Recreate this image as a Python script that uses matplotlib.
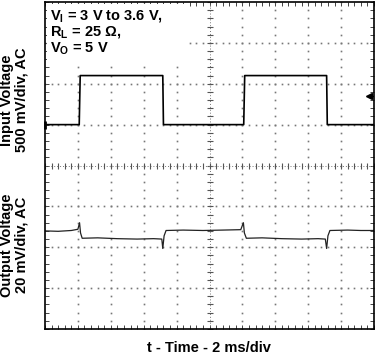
import numpy as np
import matplotlib
matplotlib.use("Agg")
import matplotlib.pyplot as plt
from matplotlib.ticker import MultipleLocator, NullFormatter
from matplotlib.patches import Rectangle

plt.rcParams['font.family'] = ['Liberation Sans', 'DejaVu Sans']
plt.rcParams['font.weight'] = 'bold'
plt.rcParams['mathtext.fontset'] = 'custom'
plt.rcParams['mathtext.rm'] = 'Liberation Sans:bold'
plt.rcParams['mathtext.it'] = 'Liberation Sans:bold'
plt.rcParams['mathtext.bf'] = 'Liberation Sans:bold'

# Datos (unidades: divisiones de la pantalla)
t_in = [0, 1.04, 1.07, 3.58, 3.60, 6.04, 6.07, 8.56, 8.58, 10]
v_in = [5.0, 5.0, 6.2, 6.2, 5.0, 5.0, 6.2, 6.2, 5.0, 5.0]

t_out = [0, 0.4, 0.8, 1.0, 1.05, 1.08, 1.13, 1.6, 2.2, 2.8, 3.3, 3.55, 3.58, 3.62, 3.68,
         4.2, 4.8, 5.4, 5.95, 6.03, 6.06, 6.12, 6.6, 7.2, 7.8, 8.3, 8.52, 8.56, 8.60, 8.66,
         9.2, 9.6, 10]
v_out = [2.40, 2.39, 2.41, 2.44, 2.60, 2.35, 2.22, 2.23, 2.21, 2.20, 2.21, 2.20, 1.97, 2.28, 2.41,
         2.42, 2.41, 2.42, 2.43, 2.60, 2.35, 2.22, 2.23, 2.21, 2.20, 2.21, 2.20, 1.97, 2.28, 2.41,
         2.42, 2.41, 2.41]

text_lines = [r'V$_\mathrm{I}$ = 3 V to 3.6 V,', r'R$_\mathrm{L}$ = 25 Ω,', r'V$_\mathrm{O}$ = 5 V']

fig = plt.figure(figsize=(3.76, 3.54), dpi=100)
ax = fig.add_axes([45/376, 25/354, 329/376, 327/354])
ax.set_xlim(0, 10)
ax.set_ylim(0, 8)

# Reticula punteada
fine_y = np.arange(0, 8.01, 0.2)
fine_x = np.arange(0, 10.01, 0.2)
for gx in range(1, 10):
    if gx == 5:
        continue
    ax.plot(np.full(len(fine_y), gx), fine_y, ls='none', marker='s', ms=1.2, mew=0, color='#777777')
for gy in range(1, 8):
    if gy == 4:
        continue
    ax.plot(fine_x, np.full(len(fine_x), gy), ls='none', marker='s', ms=1.2, mew=0, color='#777777')

# Ejes centrales con marcas
ax.plot(np.full(len(fine_y), 5), fine_y, ls=(0, (1, 2)), lw=0.7, color='#777777')
ax.plot(np.full(len(fine_y), 5), fine_y, ls='none', marker='_', ms=4, mew=0.8, color='#555555')
ax.plot(fine_x, np.full(len(fine_x), 4), ls=(0, (1, 2)), lw=0.7, color='#777777')
ax.plot(fine_x, np.full(len(fine_x), 4), ls='none', marker='|', ms=4, mew=0.8, color='#555555')

# Caja blanca detras del texto (tapa la reticula)
ax.add_patch(Rectangle((0.005, 0.82), 0.42, 0.175, transform=ax.transAxes,
                       facecolor='white', edgecolor='none', zorder=2.2))

# Trazas
ax.plot(t_in, v_in, color='black', lw=1.2)
ax.plot(t_out, v_out, color='#222222', lw=0.9)

# Marcadores de referencia
ax.plot([0], [5], marker='|', ms=6, mew=2, color='black', clip_on=False)
ax.plot([9.85, 10], [5.7, 5.7], color='black', lw=1)
ax.plot([9.85], [5.7], marker='<', ms=4, color='black')

ax.xaxis.set_major_locator(MultipleLocator(1))
ax.yaxis.set_major_locator(MultipleLocator(1))
ax.xaxis.set_minor_locator(MultipleLocator(0.2))
ax.yaxis.set_minor_locator(MultipleLocator(0.2))
ax.xaxis.set_major_formatter(NullFormatter())
ax.yaxis.set_major_formatter(NullFormatter())
ax.tick_params(which='both', direction='in', length=3, width=0.7, color='#444444',
               top=True, right=True)
for s in ax.spines.values():
    s.set_linewidth(1.2)

# Textos
for i, line in enumerate(text_lines):
    fig.text(50/376, 1 - (19.5 + 16.5*i)/354, line, fontsize=10.5, fontweight='bold', va='baseline')

fig.text(14/376, 1 - 100/354, 'Input Voltage\n500 mV/div, AC', rotation=90, ha='center', va='center',
         ma='center', fontsize=10.5, fontweight='bold', linespacing=1.05)
fig.text(14/376, 1 - 245/354, 'Output Voltage\n20 mV/div, AC', rotation=90, ha='center', va='center',
         ma='center', fontsize=10.5, fontweight='bold', linespacing=1.05)
fig.text(209/376, 1 - 352/354, 't - Time - 2 ms/div', ha='center', va='baseline',
         fontsize=10.5, fontweight='bold')

plt.savefig("out.png", dpi=100)
